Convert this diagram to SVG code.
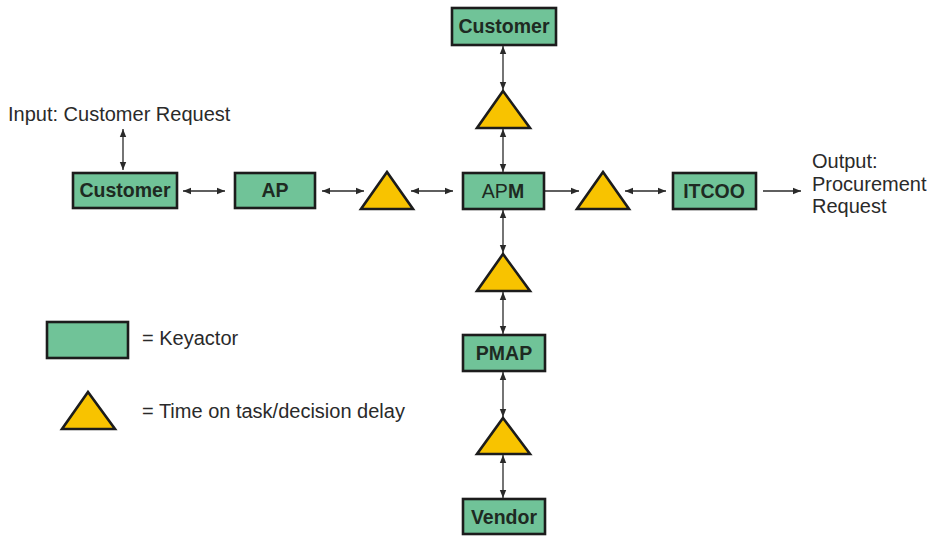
<svg xmlns="http://www.w3.org/2000/svg" width="929" height="536" viewBox="0 0 929 536">
<style>
.box{fill:#70c398;stroke:#1c1c1c;stroke-width:2.6}
.tri{fill:#f8c300;stroke:#1c1c1c;stroke-width:2.6;stroke-linejoin:miter}
.lbl{font-family:"Liberation Sans",Arial,sans-serif;font-weight:bold;font-size:19.5px;fill:#1e2a22;text-anchor:middle}
.txt{font-family:"Liberation Sans",Arial,sans-serif;font-size:20px;fill:#2a2a2a}
.ln{stroke:#2a2a2a;stroke-width:1.3;fill:none}
</style>
<defs>
<marker id="ah" viewBox="0 0 10 10" refX="10" refY="5" markerWidth="8" markerHeight="8" markerUnits="userSpaceOnUse" orient="auto-start-reverse">
<path d="M0,1 L10,5 L0,9 z" fill="#2a2a2a"/>
</marker>
</defs>
<rect width="929" height="536" fill="#ffffff"/>
<g id="connectors">
<line class="ln" x1="123" y1="129" x2="123" y2="170" marker-start="url(#ah)" marker-end="url(#ah)"/>
<line class="ln" x1="183" y1="191" x2="225" y2="191" marker-start="url(#ah)" marker-end="url(#ah)"/>
<line class="ln" x1="322" y1="191" x2="364" y2="191" marker-start="url(#ah)" marker-end="url(#ah)"/>
<line class="ln" x1="411" y1="191" x2="453" y2="191" marker-start="url(#ah)" marker-end="url(#ah)"/>
<line class="ln" x1="545" y1="191" x2="579" y2="191" marker-end="url(#ah)"/>
<line class="ln" x1="625" y1="191" x2="666" y2="191" marker-start="url(#ah)" marker-end="url(#ah)"/>
<line class="ln" x1="763" y1="191" x2="801" y2="191" marker-end="url(#ah)"/>
<line class="ln" x1="503" y1="46" x2="503" y2="90" marker-start="url(#ah)" marker-end="url(#ah)"/>
<line class="ln" x1="503" y1="129" x2="503" y2="172" marker-start="url(#ah)" marker-end="url(#ah)"/>
<line class="ln" x1="503" y1="210" x2="503" y2="253" marker-start="url(#ah)" marker-end="url(#ah)"/>
<line class="ln" x1="503" y1="292" x2="503" y2="334" marker-start="url(#ah)" marker-end="url(#ah)"/>
<line class="ln" x1="503" y1="372" x2="503" y2="417" marker-start="url(#ah)" marker-end="url(#ah)"/>
<line class="ln" x1="503" y1="455" x2="503" y2="498" marker-start="url(#ah)" marker-end="url(#ah)"/>
</g>
<g id="input-label"><text class="txt" x="8" y="121">Input: Customer Request</text></g>
<g id="customer-top"><rect class="box" x="452" y="8" width="104" height="37"/><text class="lbl" x="504" y="33">Customer</text></g>
<g id="delay-top"><polygon class="tri" points="503,91 530,128 477,128"/></g>
<g id="customer-left"><rect class="box" x="73" y="173" width="104" height="35"/><text class="lbl" x="125" y="197">Customer</text></g>
<g id="ap"><rect class="box" x="235" y="173" width="80" height="35"/><text class="lbl" x="275" y="197">AP</text></g>
<g id="delay-left"><polygon class="tri" points="387,172 413,209 361,209"/></g>
<g id="apm"><rect class="box" x="463" y="173" width="81" height="36"/><text class="lbl" x="503" y="198" style="font-weight:normal">AP<tspan style="font-weight:bold">M</tspan></text></g>
<g id="delay-right"><polygon class="tri" points="603,172 629,209 577,209"/></g>
<g id="itcoo"><rect class="box" x="673" y="173" width="83" height="36"/><text class="lbl" x="714" y="198">ITCOO</text></g>
<g id="output-label"><text class="txt" x="812" y="168">Output:</text><text class="txt" x="812" y="191">Procurement</text><text class="txt" x="812" y="213">Request</text></g>
<g id="delay-mid"><polygon class="tri" points="503,254 530,291 477,291"/></g>
<g id="pmap"><rect class="box" x="463" y="335" width="82" height="36"/><text class="lbl" x="504" y="360">PMAP</text></g>
<g id="delay-bottom"><polygon class="tri" points="503,418 530,454 477,454"/></g>
<g id="vendor"><rect class="box" x="463" y="499" width="82" height="35"/><text class="lbl" x="504" y="524">Vendor</text></g>
<g id="legend">
<rect class="box" x="47" y="322" width="81" height="36"/>
<text class="txt" x="142" y="345">= Keyactor</text>
<polygon class="tri" points="88,392 115,429 62,429"/>
<text class="txt" x="142" y="418">= Time on task/decision delay</text>
</g>
</svg>
